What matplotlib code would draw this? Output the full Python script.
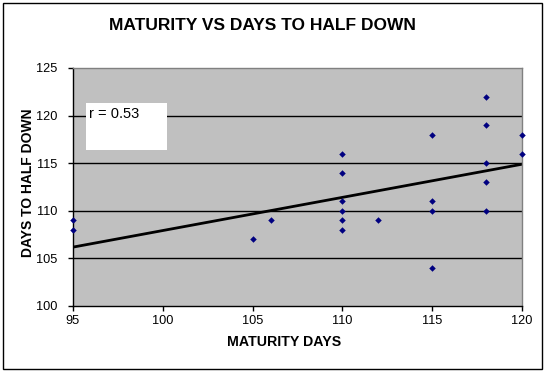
import matplotlib
matplotlib.use("Agg")
import matplotlib.pyplot as plt
from matplotlib.patches import Rectangle
import numpy as np

plt.rcParams['font.family'] = ['Liberation Sans', 'DejaVu Sans']

maturity_days = [95, 95, 105, 106, 110, 110, 110, 110, 110, 110, 112,
                 115, 115, 115, 115, 118, 118, 118, 118, 118, 120, 120]
days_to_half_down = [109, 108, 107, 109, 116, 114, 111, 110, 109, 108, 109,
                     118, 111, 110, 104, 122, 119, 115, 113, 110, 118, 116]
x_ticks = [95, 100, 105, 110, 115, 120]
y_ticks = [100, 105, 110, 115, 120, 125]

W, H = 546, 374
fig = plt.figure(figsize=(W / 100, H / 100), dpi=100)
fig.patch.set_facecolor('white')

# outer chart border
fig.add_artist(Rectangle((3 / W, 1 - 369 / H), (542 - 3) / W, (369 - 3) / H,
                         transform=fig.transFigure, fill=False,
                         edgecolor='black', linewidth=1.0))

L, R, T, B = 73, 522, 68, 306
ax = fig.add_axes([L / W, 1 - B / H, (R - L) / W, (B - T) / H])
ax.set_facecolor('#C0C0C0')
ax.set_xlim(95, 120)
ax.set_ylim(100, 125)

for yv in y_ticks[1:-1]:
    ax.axhline(yv, color='black', linewidth=1.0, zorder=1)

x = np.array(maturity_days, dtype=float)
y = np.array(days_to_half_down, dtype=float)
slope, intercept = np.polyfit(x, y, 1)
xl = np.array([95, 120])
ax.plot(xl, slope * xl + intercept, color='black', linewidth=2.0, zorder=2)

ax.scatter(x, y, marker='D', s=11, color='#000080', zorder=3, clip_on=False,
           linewidths=0)

ax.spines['left'].set_color('black')
ax.spines['bottom'].set_color('black')
ax.spines['top'].set_color('#808080')
ax.spines['right'].set_color('#808080')
for s in ax.spines.values():
    s.set_linewidth(1.0)

ax.set_xticks(x_ticks)
ax.set_yticks(y_ticks)
ax.tick_params(direction='out', length=3.6, width=1, labelsize=9.2,
               colors='black')
ax.tick_params(axis='x', pad=3)
ax.tick_params(axis='y', pad=8)

fig.text(284 / W, 1 - 342 / H, 'MATURITY DAYS', ha='center', va='center',
         fontsize=10.2, fontweight='bold')
fig.text(28 / W, 1 - 183 / H, 'DAYS TO HALF DOWN', ha='center', va='center',
         rotation=90, fontsize=10.0, fontweight='bold')

fig.text(262 / W, 1 - 25 / H, 'MATURITY VS DAYS TO HALF DOWN', ha='center',
         va='center', fontsize=12.5, fontweight='bold')

# r box
fig.add_artist(Rectangle((86 / W, 1 - 150 / H), (167 - 86) / W, (150 - 103) / H,
                         transform=fig.transFigure, facecolor='white',
                         edgecolor='none', zorder=5))
fig.text(89 / W, 1 - 114 / H, 'r = 0.53', ha='left', va='center',
         fontsize=10.5, zorder=6)

fig.savefig('out.png', dpi=100)
